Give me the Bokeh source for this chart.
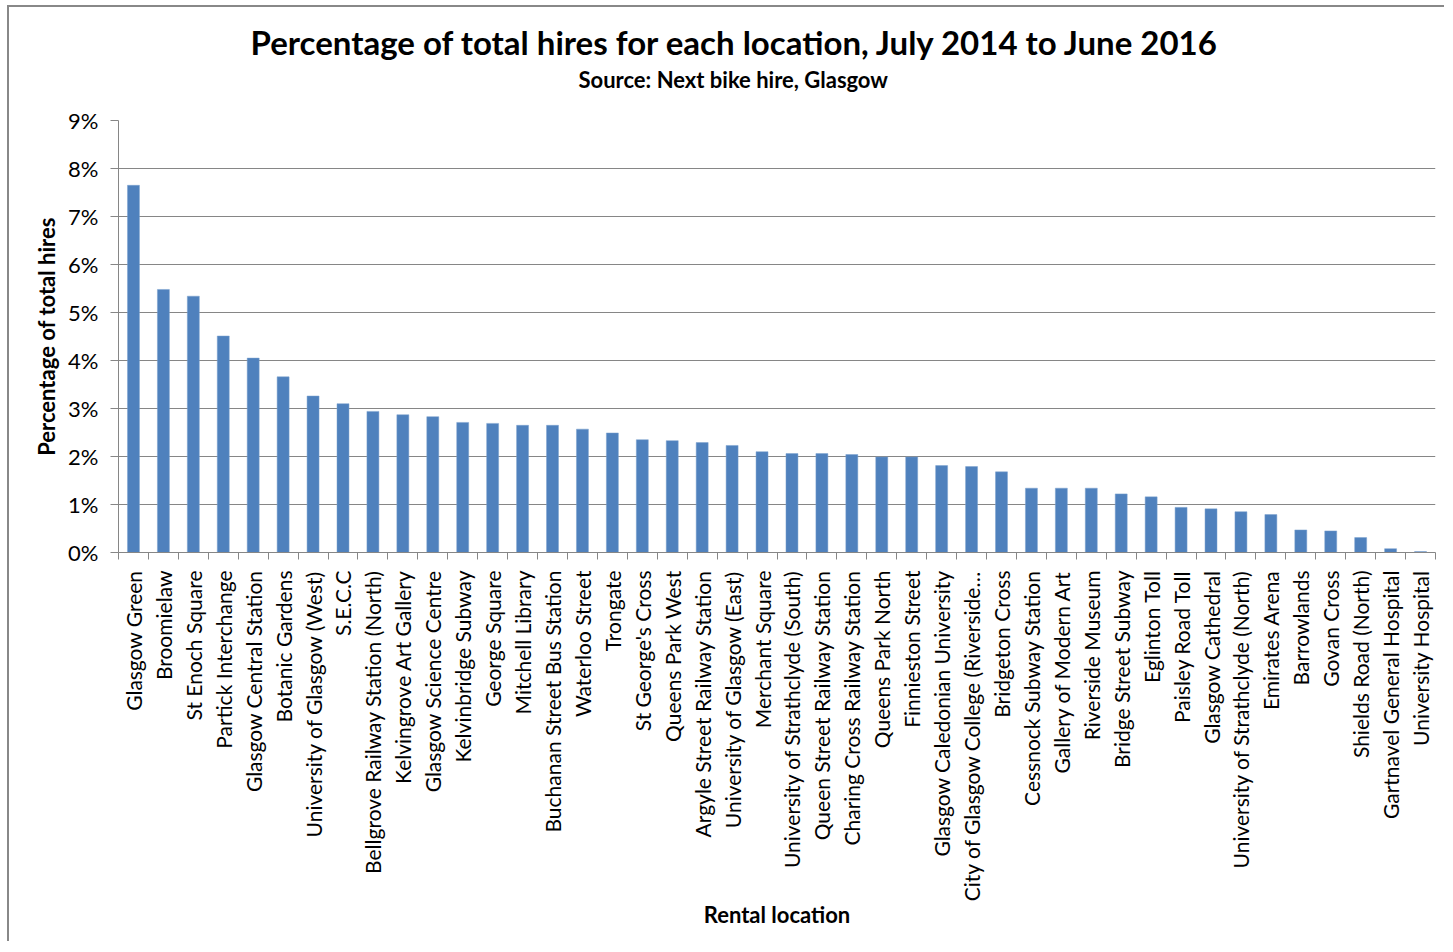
import math
from bokeh.plotting import figure
from bokeh.models import ColumnDataSource, Range1d, FixedTicker, PrintfTickFormatter, Title
from bokeh.embed import file_html
from bokeh.resources import INLINE

locations = [
    "Glasgow Green", "Broomielaw", "St Enoch Square", "Partick Interchange",
    "Glasgow Central Station", "Botanic Gardens", "University of Glasgow (West)",
    "S.E.C.C", "Bellgrove Railway Station (North)", "Kelvingrove Art Gallery",
    "Glasgow Science Centre", "Kelvinbridge Subway", "George Square",
    "Mitchell Library", "Buchanan Street Bus Station", "Waterloo Street",
    "Trongate", "St George's Cross", "Queens Park West",
    "Argyle Street Railway Station", "University of Glasgow (East)",
    "Merchant Square", "University of Strathclyde (South)",
    "Queen Street Railway Station", "Charing Cross Railway Station",
    "Queens Park North", "Finnieston Street", "Glasgow Caledonian University",
    "City of Glasgow College (Riverside\u2026", "Bridgeton Cross",
    "Cessnock Subway Station", "Gallery of Modern Art", "Riverside Museum",
    "Bridge Street Subway", "Eglinton Toll", "Paisley Road Toll",
    "Glasgow Cathedral", "University of Strathclyde (North)", "Emirates Arena",
    "Barrowlands", "Govan Cross", "Shields Road (North)",
    "Gartnavel General Hospital", "University Hospital",
]

percent_hires = [
    7.65, 5.48, 5.34, 4.51, 4.05, 3.66, 3.26, 3.10, 2.94, 2.87,
    2.83, 2.71, 2.69, 2.65, 2.65, 2.57, 2.49, 2.35, 2.33, 2.29,
    2.23, 2.10, 2.06, 2.06, 2.04, 1.99, 1.99, 1.81, 1.79, 1.68,
    1.34, 1.34, 1.34, 1.22, 1.16, 0.94, 0.91, 0.85, 0.79, 0.47,
    0.45, 0.31, 0.08, 0.02,
]

y_ticks = [0, 1, 2, 3, 4, 5, 6, 7, 8, 9]

title_text = "Percentage of total hires for each location, July 2014 to June 2016"
subtitle_text = "Source: Next bike hire, Glasgow"
x_title = "Rental location"
y_title = "Percentage of total hires"

n = len(locations)
idx = list(range(n))
source = ColumnDataSource(dict(x=idx, top=percent_hires, name=locations))

FONT = "Lato"
GRAY = "#868686"

p = figure(width=1437, height=936, output_backend="svg", toolbar_location=None,
           x_range=Range1d(-0.5, n - 0.5), y_range=Range1d(0, 9),
           min_border_left=109, min_border_right=11, min_border_top=113,
           min_border_bottom=391)
p.styles = {"border-left": "2px solid #888888", "border-top": "2px solid #888888",
            "margin-left": "7px", "margin-top": "5px"}

p.vbar(x="x", top="top", width=0.4, bottom=0, source=source,
       fill_color="#4F81BD", line_color="#7ba0cf", line_width=0.5)

p.outline_line_color = None
p.xgrid.grid_line_color = None
p.ygrid.grid_line_color = GRAY
p.ygrid.grid_line_width = 1
p.ygrid.ticker = FixedTicker(ticks=y_ticks)

# y axis
p.yaxis.ticker = FixedTicker(ticks=y_ticks)
p.yaxis.formatter = PrintfTickFormatter(format="%d%%")
p.yaxis.axis_line_color = GRAY
p.yaxis.major_tick_line_color = GRAY
p.yaxis.major_tick_out = 8
p.yaxis.major_tick_in = 0
p.yaxis.minor_tick_line_color = None
p.yaxis.major_label_standoff = 12
p.yaxis.major_label_text_font = FONT
p.yaxis.major_label_text_font_size = "22px"
p.yaxis.major_label_text_color = "#000000"
p.yaxis.axis_label = y_title
p.yaxis.axis_label_text_font = FONT
p.yaxis.axis_label_text_font_style = "bold"
p.yaxis.axis_label_text_font_size = "22px"
p.yaxis.axis_label_text_color = "#000000"
p.yaxis.axis_label_standoff = 5

# x axis
p.xaxis.ticker = FixedTicker(ticks=idx, minor_ticks=[i - 0.5 for i in range(n + 1)])
p.xaxis.major_label_overrides = {i: locations[i] for i in idx}
p.xaxis.major_label_orientation = math.pi / 2
p.xaxis.axis_line_color = GRAY
p.xaxis.major_tick_line_color = None
p.xaxis.major_tick_out = 0
p.xaxis.major_tick_in = 0
p.xaxis.minor_tick_line_color = GRAY
p.xaxis.minor_tick_out = 7
p.xaxis.minor_tick_in = 0
p.xaxis.major_label_standoff = 11
p.xaxis.major_label_text_font = FONT
p.xaxis.major_label_text_font_size = "21px"
p.xaxis.major_label_text_color = "#000000"
p.xaxis.axis_label = x_title
p.xaxis.axis_label_text_font = FONT
p.xaxis.axis_label_text_font_style = "bold"
p.xaxis.axis_label_text_font_size = "22px"
p.xaxis.axis_label_text_color = "#000000"
p.xaxis.axis_label_standoff = -3

# titles: spacer first (closest to plot), then subtitle, then main title
p.add_layout(Title(text=" ", text_font_size="2px", standoff=22), "above")
p.add_layout(Title(text=subtitle_text, align="left", offset=460, text_font=FONT,
                   text_font_style="bold", text_font_size="22px",
                   text_color="#000000", standoff=4), "above")
p.add_layout(Title(text=title_text, align="left", offset=132, text_font=FONT,
                   text_font_style="bold", text_font_size="33px",
                   text_color="#000000", standoff=0), "above")

open("out.html", "w").write(file_html(p, INLINE))
